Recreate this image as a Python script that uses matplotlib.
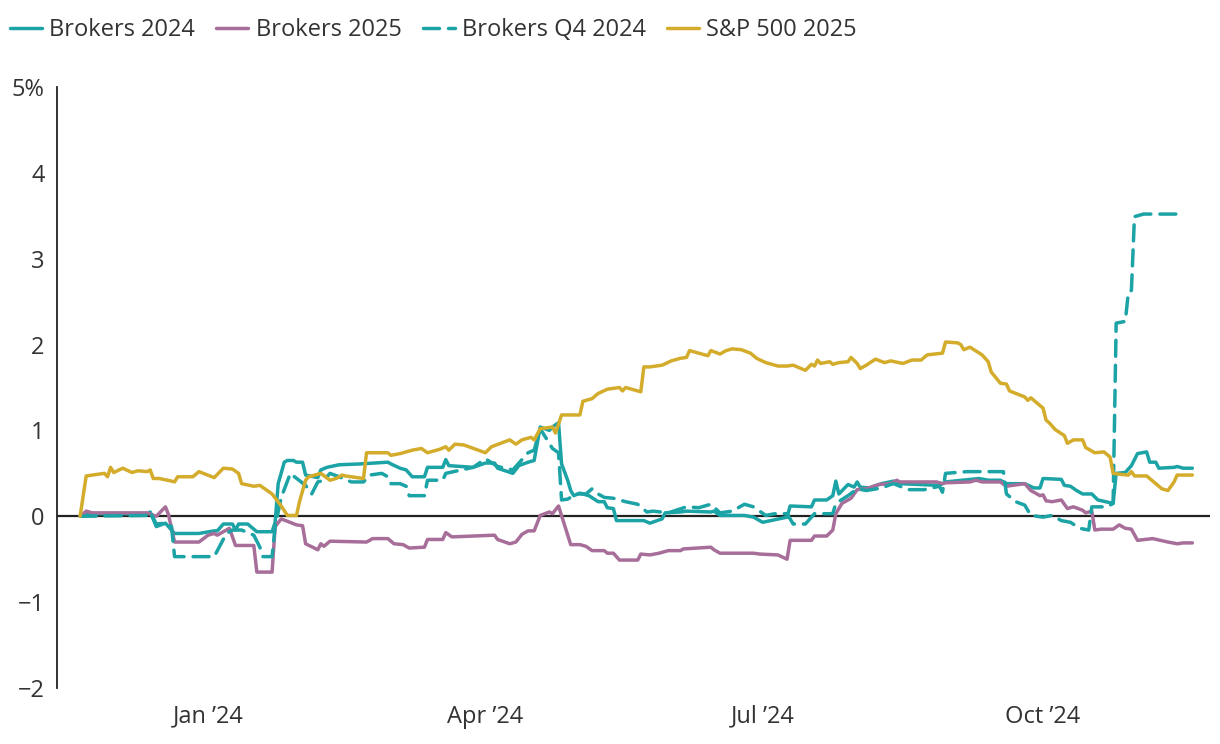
import matplotlib
matplotlib.use("Agg")
import matplotlib.pyplot as plt
import pandas as pd

plt.rcParams['font.family'] = ['Open Sans', 'DejaVu Sans']

# ---- data (date, % change) ----
BROKERS_2024 = [
    ("2023-11-20", 0.00), ("2023-11-22", 0.03), ("2023-12-12", 0.03), ("2023-12-13", 0.05),
    ("2023-12-15", -0.12), ("2023-12-18", -0.08), ("2023-12-21", -0.20), ("2023-12-29", -0.20),
    ("2024-01-03", -0.17), ("2024-01-04", -0.17), ("2024-01-06", -0.09), ("2024-01-09", -0.09),
    ("2024-01-10", -0.16), ("2024-01-11", -0.09), ("2024-01-14", -0.09), ("2024-01-17", -0.18),
    ("2024-01-22", -0.18), ("2024-01-23", -0.07), ("2024-01-24", 0.38), ("2024-01-26", 0.63),
    ("2024-01-27", 0.65), ("2024-01-29", 0.65), ("2024-01-30", 0.63), ("2024-02-01", 0.63),
    ("2024-02-02", 0.48), ("2024-02-06", 0.45), ("2024-02-07", 0.54), ("2024-02-09", 0.57),
    ("2024-02-13", 0.60), ("2024-02-20", 0.61), ("2024-02-29", 0.63), ("2024-03-01", 0.61),
    ("2024-03-04", 0.56), ("2024-03-06", 0.54), ("2024-03-08", 0.46), ("2024-03-12", 0.46),
    ("2024-03-13", 0.57), ("2024-03-18", 0.57), ("2024-03-19", 0.66), ("2024-03-20", 0.59),
    ("2024-03-28", 0.57), ("2024-04-01", 0.62), ("2024-04-04", 0.62), ("2024-04-05", 0.56),
    ("2024-04-10", 0.50), ("2024-04-12", 0.59), ("2024-04-15", 0.63), ("2024-04-17", 0.65),
    ("2024-04-19", 1.04), ("2024-04-22", 1.00), ("2024-04-23", 1.04), ("2024-04-25", 1.09),
    ("2024-04-26", 0.61), ("2024-04-28", 0.42), ("2024-04-29", 0.30), ("2024-04-30", 0.24),
    ("2024-05-02", 0.27), ("2024-05-05", 0.24), ("2024-05-08", 0.17), ("2024-05-10", 0.17),
    ("2024-05-11", 0.10), ("2024-05-13", 0.09), ("2024-05-14", -0.05), ("2024-05-23", -0.05),
    ("2024-05-25", -0.08), ("2024-05-29", -0.03), ("2024-05-30", 0.04), ("2024-06-04", 0.05),
    ("2024-06-06", 0.06), ("2024-06-14", 0.05), ("2024-06-15", 0.06), ("2024-06-17", 0.01),
    ("2024-06-25", 0.01), ("2024-06-28", -0.01), ("2024-07-01", -0.07), ("2024-07-05", -0.04),
    ("2024-07-09", -0.01), ("2024-07-10", 0.12), ("2024-07-17", 0.11), ("2024-07-18", 0.19),
    ("2024-07-22", 0.19), ("2024-07-24", 0.24), ("2024-07-25", 0.41), ("2024-07-26", 0.26),
    ("2024-07-29", 0.37), ("2024-07-31", 0.34), ("2024-08-01", 0.40), ("2024-08-02", 0.34),
    ("2024-08-05", 0.33), ("2024-08-09", 0.38), ("2024-08-13", 0.41), ("2024-08-15", 0.38),
    ("2024-08-28", 0.36), ("2024-08-30", 0.40), ("2024-09-10", 0.44), ("2024-09-13", 0.42),
    ("2024-09-17", 0.42), ("2024-09-19", 0.38), ("2024-09-25", 0.38), ("2024-09-28", 0.33),
    ("2024-09-30", 0.33), ("2024-10-01", 0.44), ("2024-10-07", 0.43), ("2024-10-08", 0.36),
    ("2024-10-10", 0.35), ("2024-10-12", 0.30), ("2024-10-14", 0.26), ("2024-10-17", 0.26),
    ("2024-10-19", 0.19), ("2024-10-24", 0.15), ("2024-10-25", 0.50), ("2024-10-28", 0.51),
    ("2024-10-30", 0.59), ("2024-11-01", 0.73), ("2024-11-04", 0.75), ("2024-11-05", 0.63),
    ("2024-11-07", 0.63), ("2024-11-08", 0.56), ("2024-11-13", 0.57), ("2024-11-14", 0.58),
    ("2024-11-16", 0.56), ("2024-11-19", 0.56),
]

BROKERS_2025 = [
    ("2023-11-20", 0.00), ("2023-11-22", 0.06), ("2023-11-24", 0.04), ("2023-12-12", 0.04),
    ("2023-12-15", 0.00), ("2023-12-18", 0.11), ("2023-12-19", 0.02), ("2023-12-21", -0.30),
    ("2023-12-29", -0.30), ("2024-01-01", -0.22), ("2024-01-03", -0.20), ("2024-01-04", -0.22),
    ("2024-01-08", -0.14), ("2024-01-10", -0.34), ("2024-01-16", -0.34), ("2024-01-17", -0.65),
    ("2024-01-22", -0.65), ("2024-01-23", -0.12), ("2024-01-25", -0.03), ("2024-01-30", -0.10),
    ("2024-02-01", -0.11), ("2024-02-02", -0.32), ("2024-02-06", -0.39), ("2024-02-07", -0.32),
    ("2024-02-08", -0.35), ("2024-02-10", -0.29), ("2024-02-22", -0.30), ("2024-02-24", -0.26),
    ("2024-02-29", -0.26), ("2024-03-02", -0.32), ("2024-03-05", -0.33), ("2024-03-07", -0.37),
    ("2024-03-12", -0.36), ("2024-03-13", -0.27), ("2024-03-18", -0.27), ("2024-03-19", -0.19),
    ("2024-03-21", -0.24), ("2024-04-04", -0.22), ("2024-04-05", -0.27), ("2024-04-09", -0.32),
    ("2024-04-11", -0.30), ("2024-04-13", -0.21), ("2024-04-15", -0.17), ("2024-04-17", -0.17),
    ("2024-04-19", 0.01), ("2024-04-22", 0.05), ("2024-04-23", 0.03), ("2024-04-25", 0.12),
    ("2024-04-29", -0.33), ("2024-05-02", -0.33), ("2024-05-04", -0.35), ("2024-05-06", -0.40),
    ("2024-05-10", -0.40), ("2024-05-11", -0.43), ("2024-05-13", -0.43), ("2024-05-15", -0.51),
    ("2024-05-21", -0.51), ("2024-05-22", -0.44), ("2024-05-25", -0.45), ("2024-05-28", -0.43),
    ("2024-05-31", -0.40), ("2024-06-04", -0.40), ("2024-06-05", -0.38), ("2024-06-14", -0.36),
    ("2024-06-15", -0.39), ("2024-06-17", -0.43), ("2024-06-28", -0.43), ("2024-06-30", -0.44),
    ("2024-07-06", -0.45), ("2024-07-09", -0.50), ("2024-07-10", -0.28), ("2024-07-17", -0.28),
    ("2024-07-18", -0.23), ("2024-07-22", -0.23), ("2024-07-24", -0.16), ("2024-07-25", 0.03),
    ("2024-07-27", 0.15), ("2024-07-30", 0.21), ("2024-08-01", 0.31), ("2024-08-04", 0.32),
    ("2024-08-08", 0.37), ("2024-08-12", 0.38), ("2024-08-14", 0.42), ("2024-08-15", 0.40),
    ("2024-08-27", 0.40), ("2024-08-29", 0.38), ("2024-08-30", 0.39), ("2024-09-07", 0.40),
    ("2024-09-09", 0.42), ("2024-09-11", 0.40), ("2024-09-17", 0.40), ("2024-09-19", 0.35),
    ("2024-09-21", 0.36), ("2024-09-25", 0.38), ("2024-09-27", 0.30), ("2024-09-30", 0.24),
    ("2024-10-01", 0.25), ("2024-10-02", 0.18), ("2024-10-04", 0.17), ("2024-10-07", 0.19),
    ("2024-10-09", 0.09), ("2024-10-11", 0.11), ("2024-10-14", 0.07), ("2024-10-15", 0.04),
    ("2024-10-17", 0.06), ("2024-10-18", -0.16), ("2024-10-20", -0.15), ("2024-10-24", -0.15),
    ("2024-10-26", -0.10), ("2024-10-28", -0.14), ("2024-10-30", -0.15), ("2024-11-01", -0.28),
    ("2024-11-06", -0.26), ("2024-11-11", -0.30), ("2024-11-14", -0.32), ("2024-11-16", -0.31),
    ("2024-11-19", -0.31),
]

BROKERS_Q4_2024 = [
    ("2023-11-20", 0.00), ("2023-12-12", 0.01), ("2023-12-13", 0.05), ("2023-12-15", -0.09),
    ("2023-12-18", -0.08), ("2023-12-20", -0.12), ("2023-12-21", -0.47), ("2024-01-03", -0.47),
    ("2024-01-07", -0.20), ("2024-01-09", -0.16), ("2024-01-12", -0.16), ("2024-01-16", -0.22),
    ("2024-01-18", -0.36), ("2024-01-19", -0.47), ("2024-01-22", -0.47), ("2024-01-23", -0.12),
    ("2024-01-25", 0.22), ("2024-01-28", 0.50), ("2024-01-29", 0.47), ("2024-02-02", 0.36),
    ("2024-02-04", 0.26), ("2024-02-06", 0.40), ("2024-02-08", 0.42), ("2024-02-10", 0.50),
    ("2024-02-13", 0.46), ("2024-02-17", 0.40), ("2024-02-21", 0.40), ("2024-02-23", 0.48),
    ("2024-02-27", 0.50), ("2024-02-29", 0.46), ("2024-03-01", 0.38), ("2024-03-04", 0.38),
    ("2024-03-06", 0.35), ("2024-03-07", 0.24), ("2024-03-12", 0.24), ("2024-03-13", 0.42),
    ("2024-03-18", 0.42), ("2024-03-19", 0.50), ("2024-03-28", 0.57), ("2024-04-01", 0.67),
    ("2024-04-05", 0.58), ("2024-04-10", 0.54), ("2024-04-15", 0.74), ("2024-04-17", 0.77),
    ("2024-04-19", 1.02), ("2024-04-23", 0.79), ("2024-04-25", 0.74), ("2024-04-26", 0.19),
    ("2024-04-28", 0.20), ("2024-05-01", 0.26), ("2024-05-04", 0.26), ("2024-05-06", 0.32),
    ("2024-05-08", 0.26), ("2024-05-10", 0.22), ("2024-05-13", 0.21), ("2024-05-17", 0.17),
    ("2024-05-21", 0.14), ("2024-05-24", 0.05), ("2024-05-26", 0.06), ("2024-05-31", 0.04),
    ("2024-06-06", 0.11), ("2024-06-10", 0.10), ("2024-06-14", 0.14), ("2024-06-17", 0.04),
    ("2024-06-21", 0.06), ("2024-06-25", 0.14), ("2024-06-28", 0.11), ("2024-07-02", 0.01),
    ("2024-07-05", 0.03), ("2024-07-09", 0.03), ("2024-07-11", -0.09), ("2024-07-15", -0.09),
    ("2024-07-18", 0.03), ("2024-07-24", 0.03), ("2024-07-25", 0.15), ("2024-07-29", 0.24),
    ("2024-08-01", 0.32), ("2024-08-04", 0.30), ("2024-08-09", 0.33), ("2024-08-12", 0.37),
    ("2024-08-13", 0.38), ("2024-08-15", 0.35), ("2024-08-18", 0.31), ("2024-08-23", 0.31),
    ("2024-08-28", 0.35), ("2024-08-29", 0.28), ("2024-08-30", 0.50), ("2024-09-06", 0.52),
    ("2024-09-18", 0.52), ("2024-09-19", 0.26), ("2024-09-22", 0.17), ("2024-09-25", 0.13),
    ("2024-09-27", 0.01), ("2024-10-01", -0.01), ("2024-10-04", 0.01), ("2024-10-07", -0.05),
    ("2024-10-10", -0.07), ("2024-10-13", -0.14), ("2024-10-16", -0.16), ("2024-10-17", 0.11),
    ("2024-10-22", 0.11), ("2024-10-24", 0.15), ("2024-10-25", 2.25), ("2024-10-28", 2.27),
    ("2024-10-29", 2.61), ("2024-10-30", 2.63), ("2024-10-31", 3.49), ("2024-11-03", 3.52),
    ("2024-11-15", 3.52),
]

SP500_2025 = [
    ("2023-11-20", 0.00), ("2023-11-22", 0.47), ("2023-11-24", 0.48), ("2023-11-28", 0.50),
    ("2023-11-29", 0.46), ("2023-11-30", 0.57), ("2023-12-01", 0.51), ("2023-12-04", 0.56),
    ("2023-12-07", 0.51), ("2023-12-09", 0.53), ("2023-12-12", 0.52), ("2023-12-13", 0.54),
    ("2023-12-14", 0.44), ("2023-12-16", 0.44), ("2023-12-20", 0.41), ("2023-12-21", 0.40),
    ("2023-12-22", 0.46), ("2023-12-27", 0.46), ("2023-12-29", 0.52), ("2024-01-03", 0.45),
    ("2024-01-06", 0.56), ("2024-01-09", 0.55), ("2024-01-11", 0.50), ("2024-01-12", 0.38),
    ("2024-01-16", 0.35), ("2024-01-18", 0.36), ("2024-01-20", 0.31), ("2024-01-22", 0.26),
    ("2024-01-25", 0.12), ("2024-01-27", 0.01), ("2024-01-30", 0.01), ("2024-01-31", 0.17),
    ("2024-02-02", 0.42), ("2024-02-03", 0.46), ("2024-02-05", 0.48), ("2024-02-07", 0.50),
    ("2024-02-10", 0.42), ("2024-02-12", 0.44), ("2024-02-14", 0.48), ("2024-02-15", 0.47),
    ("2024-02-21", 0.44), ("2024-02-22", 0.74), ("2024-02-29", 0.74), ("2024-03-01", 0.71),
    ("2024-03-04", 0.73), ("2024-03-08", 0.77), ("2024-03-11", 0.79), ("2024-03-13", 0.74),
    ("2024-03-17", 0.78), ("2024-03-19", 0.81), ("2024-03-20", 0.77), ("2024-03-22", 0.84),
    ("2024-03-25", 0.83), ("2024-04-01", 0.74), ("2024-04-03", 0.81), ("2024-04-06", 0.85),
    ("2024-04-09", 0.89), ("2024-04-11", 0.84), ("2024-04-13", 0.89), ("2024-04-16", 0.92),
    ("2024-04-17", 0.89), ("2024-04-19", 1.02), ("2024-04-23", 1.04), ("2024-04-24", 0.97),
    ("2024-04-26", 1.18), ("2024-05-02", 1.18), ("2024-05-03", 1.34), ("2024-05-06", 1.37),
    ("2024-05-08", 1.43), ("2024-05-11", 1.48), ("2024-05-15", 1.50), ("2024-05-16", 1.46),
    ("2024-05-17", 1.50), ("2024-05-21", 1.46), ("2024-05-22", 1.45), ("2024-05-23", 1.74),
    ("2024-05-25", 1.74), ("2024-05-29", 1.76), ("2024-06-01", 1.81), ("2024-06-04", 1.84),
    ("2024-06-06", 1.85), ("2024-06-07", 1.93), ("2024-06-10", 1.90), ("2024-06-13", 1.87),
    ("2024-06-14", 1.93), ("2024-06-17", 1.89), ("2024-06-19", 1.93), ("2024-06-21", 1.95),
    ("2024-06-24", 1.94), ("2024-06-27", 1.90), ("2024-06-29", 1.84), ("2024-07-02", 1.79),
    ("2024-07-06", 1.75), ("2024-07-09", 1.75), ("2024-07-11", 1.76), ("2024-07-15", 1.70),
    ("2024-07-17", 1.77), ("2024-07-18", 1.75), ("2024-07-19", 1.82), ("2024-07-20", 1.78),
    ("2024-07-23", 1.80), ("2024-07-24", 1.77), ("2024-07-26", 1.79), ("2024-07-29", 1.80),
    ("2024-07-30", 1.85), ("2024-08-01", 1.78), ("2024-08-02", 1.72), ("2024-08-04", 1.76),
    ("2024-08-07", 1.83), ("2024-08-10", 1.79), ("2024-08-12", 1.81), ("2024-08-16", 1.78),
    ("2024-08-19", 1.82), ("2024-08-22", 1.82), ("2024-08-24", 1.88), ("2024-08-29", 1.90),
    ("2024-08-30", 2.03), ("2024-09-03", 2.02), ("2024-09-04", 2.00), ("2024-09-05", 1.94),
    ("2024-09-07", 1.97), ("2024-09-11", 1.88), ("2024-09-13", 1.80), ("2024-09-14", 1.68),
    ("2024-09-17", 1.55), ("2024-09-19", 1.54), ("2024-09-20", 1.46), ("2024-09-25", 1.39),
    ("2024-09-26", 1.35), ("2024-09-27", 1.38), ("2024-10-01", 1.26), ("2024-10-02", 1.12),
    ("2024-10-03", 1.09), ("2024-10-05", 1.01), ("2024-10-08", 0.94), ("2024-10-09", 0.85),
    ("2024-10-11", 0.89), ("2024-10-14", 0.89), ("2024-10-15", 0.80), ("2024-10-18", 0.74),
    ("2024-10-21", 0.75), ("2024-10-23", 0.69), ("2024-10-24", 0.50), ("2024-10-26", 0.49),
    ("2024-10-29", 0.48), ("2024-10-30", 0.52), ("2024-10-31", 0.47), ("2024-11-04", 0.47),
    ("2024-11-07", 0.38), ("2024-11-09", 0.32), ("2024-11-11", 0.30), ("2024-11-13", 0.40),
    ("2024-11-14", 0.48), ("2024-11-19", 0.48),
]

SERIES_NAMES = ["Brokers 2024", "Brokers 2025", "Brokers Q4 2024", "S&P 500 2025"]
Y_TICKS = [-2, -1, 0, 1, 2, 3, 4, 5]
Y_TICK_LABELS = ["\u22122", "\u22121", "0", "1", "2", "3", "4", "5%"]
X_TICKS = ["2024-01-01", "2024-04-01", "2024-07-01", "2024-10-01"]
X_TICK_LABELS = ["Jan \u201924", "Apr \u201924", "Jul \u201924", "Oct \u201924"]

TEAL = "#1ba3a6"
PURPLE = "#a86e9a"
GOLD = "#d4ac2c"
TEXT = "#333333"


def split(pairs):
    d = pd.to_datetime([p[0] for p in pairs])
    v = [p[1] for p in pairs]
    return d, v


fig = plt.figure(figsize=(12.2, 7.44), dpi=100)
ax = fig.add_axes([57 / 1220, 56 / 744, 1153 / 1220, 601 / 744])

ax.axhline(0, color="#222222", lw=1.6, zorder=1)

lw = 2.5
common = dict(lw=lw, zorder=3, solid_joinstyle="round", solid_capstyle="round")
d, v = split(BROKERS_2024)
ax.plot(d, v, color=TEAL, label=SERIES_NAMES[0], **common)
d, v = split(BROKERS_2025)
ax.plot(d, v, color=PURPLE, label=SERIES_NAMES[1], **common)
d, v = split(BROKERS_Q4_2024)
ax.plot(d, v, color=TEAL, lw=lw, ls=(0, (4.6, 2.6)), dash_capstyle="round",
        label=SERIES_NAMES[2], zorder=3)
d, v = split(SP500_2025)
ax.plot(d, v, color=GOLD, label=SERIES_NAMES[3], **common)

ax.set_ylim(-2, 5)
ax.set_xlim(pd.Timestamp("2023-11-12 10:00"), pd.Timestamp("2024-11-24 19:00"))

ax.set_yticks(Y_TICKS)
ax.set_yticklabels(Y_TICK_LABELS)
ax.set_xticks(pd.to_datetime(X_TICKS))
ax.set_xticklabels(X_TICK_LABELS)

for s in ["top", "right", "bottom"]:
    ax.spines[s].set_visible(False)
ax.spines["left"].set_color("#222222")
ax.spines["left"].set_linewidth(1.3)

ax.tick_params(axis="both", length=0, labelsize=17, colors=TEXT)
ax.tick_params(axis="y", pad=9)
ax.tick_params(axis="x", pad=12)

leg = fig.legend(loc="center left", bbox_to_anchor=(0.0, 1 - 30 / 744), ncol=4, frameon=False,
                 fontsize=17, handlelength=1.36, handletextpad=0.3, columnspacing=0.9,
                 borderaxespad=0.0, borderpad=0.0)
leg.set_bbox_to_anchor((10 / 1220, 1 - 30 / 744), transform=fig.transFigure)
for t in leg.get_texts():
    t.set_color(TEXT)

fig.savefig("out.png", dpi=100)
